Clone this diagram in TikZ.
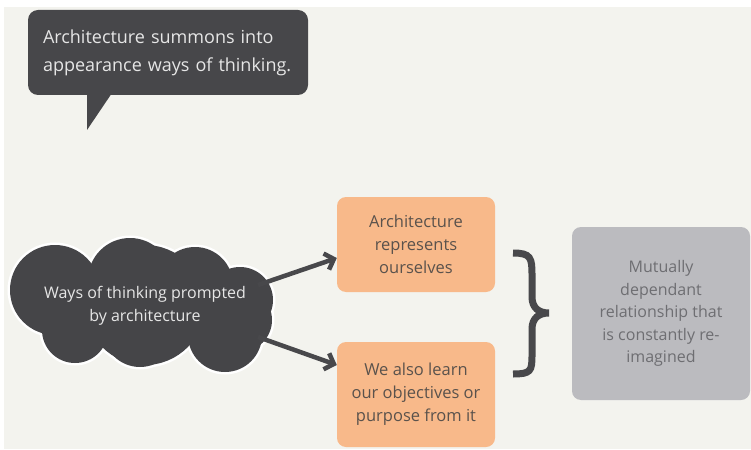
\documentclass[tikz,border=0pt]{standalone}
\usepackage{fontspec}
\setmainfont{Open Sans}
\usetikzlibrary{arrows.meta}
\definecolor{bgc}{HTML}{F3F3EE}
\definecolor{darkc}{HTML}{47474A}
\definecolor{cloudc}{HTML}{454548}
\definecolor{orangec}{HTML}{F8B98A}
\definecolor{orangetxt}{HTML}{5A524C}
\definecolor{grayc}{HTML}{BBBBBF}
\definecolor{graytxt}{HTML}{6E6E72}
\definecolor{arrowc}{HTML}{48484B}
\definecolor{lighttxt}{HTML}{E6E6E6}
\begin{document}
\begin{tikzpicture}[x=1pt,y=-1pt,
  bubblebox/.style={fill=darkc, rounded corners=10pt, text=lighttxt, align=left,
    text width=250pt, inner xsep=15pt, minimum height=85pt,
    font=\fontsize{18}{28}\selectfont},
  cloudtext/.style={text=lighttxt, align=center, minimum width=262pt, minimum height=134pt,
    font=\fontsize{16}{23}\selectfont},
  obox/.style={fill=orangec, rounded corners=9pt, text=orangetxt, align=center,
    minimum width=158pt, font=\fontsize{16.5}{23}\selectfont},
  gbox/.style={fill=grayc, rounded corners=9pt, text=graytxt, align=center,
    minimum width=178pt, minimum height=173pt, font=\fontsize{16}{22.5}\selectfont},
  conn/.style={draw=arrowc, line width=4.5pt,
    -{Straight Barb[length=8pt,width=17pt]}},
  bracec/.style={draw=arrowc, line width=7pt}
]
\useasboundingbox (0,0) rectangle (751,449);
\fill[white] (0,0) rectangle (751,449);
\fill[bgc] (4,7) rectangle (751,449);

% speech bubble
\fill[darkc] (87,90) -- (114,90) -- (87,130) -- cycle;
\node[bubblebox] (quote) at (168,52.5) {Architecture summons into\\appearance ways of thinking.};

% cloud
\foreach \cx/\cy/\r in {55/290/45,130/280/42,195/285/38,240/300/33,75/330/33,140/330/37,225/335/37,240/320/32,145/305/60}
  \draw[white, line width=5pt] (\cx,\cy) circle[radius=\r];
\foreach \cx/\cy/\r in {55/290/45,130/280/42,195/285/38,240/300/33,75/330/33,140/330/37,225/335/37,240/320/32,145/305/60}
  \fill[cloudc] (\cx,\cy) circle[radius=\r];
\node[cloudtext] (cloud) at (145,306) {Ways of thinking prompted\\by architecture};

% orange boxes
\node[obox, minimum height=95pt] (box1) at (416,244.5) {Architecture\\represents\\ourselves};
\node[obox, minimum height=105pt] (box2) at (416,394.5) {We also learn\\our objectives or\\purpose from it};

% gray box
\node[gbox] (rel) at (661,313.5) {Mutually\\dependant\\relationship that\\is constantly re-\\imagined};

% arrows
\coordinate (s1) at (258,285);
\coordinate (s2) at (258,337);
\draw[conn] (s1) -- ([yshift=-13.5pt]box1.west);
\draw[conn] (s2) -- ([yshift=29.5pt]box2.west);

% brace
\draw[bracec] (513,253) .. controls (531,253) and (532,258) .. (532,275) -- (532,297)
  .. controls (532,308) and (539,313) .. (549,313)
  .. controls (539,313) and (532,318) .. (532,329) -- (532,355)
  .. controls (532,371) and (531,374) .. (513,374);
\end{tikzpicture}
\end{document}
